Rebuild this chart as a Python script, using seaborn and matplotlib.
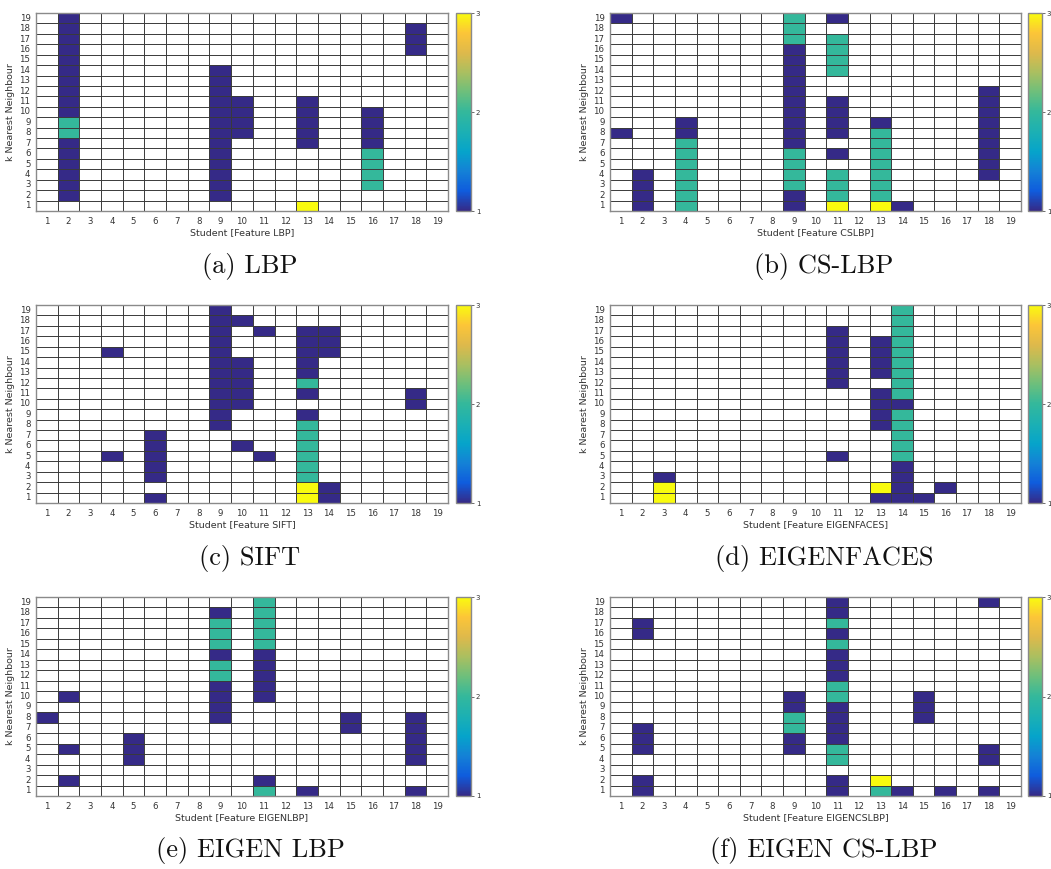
import numpy as np
import pandas as pd
import seaborn as sns
import matplotlib.pyplot as plt
from matplotlib.colors import LinearSegmentedColormap

sns.set_style("white")
plt.rcParams["font.family"] = ["DejaVu Sans"]

N = 19
students = list(range(1, N + 1))
k_values = list(range(1, N + 1))

# Per-student columns: character i is k = i + 1 ('.' = not matched, digits = count)
lbp_cols = {
    2: ".111111221111111111",
    9: ".1111111111111.....",
    10: ".......1111........",
    13: "3.....11111........",
    16: "..22221111.........",
    18: "...............111.",
}
cslbp_cols = {
    1: ".......1..........1",
    2: "1111...............",
    4: "222222211..........",
    9: "1122221111111111222",
    11: "3222.1.1111..2222.1",
    13: "322222221..........",
    14: "1..................",
    18: "...111111111.......",
}
sift_cols = {
    4: "....1.........1....",
    6: "1.11111............",
    9: ".......111111111111",
    10: ".....1...11111...1.",
    11: "....1...........1..",
    13: "332222221.1211111..",
    14: "11............111..",
    18: ".........11........",
}
eigenfaces_cols = {
    3: "331................",
    11: "....1......111111..",
    13: "13.....1111.1111...",
    14: "1111222221222222222",
    15: "1..................",
    16: ".1.................",
}
eigenlbp_cols = {
    1: ".......1...........",
    2: ".1..1....1.........",
    5: "...111.............",
    9: ".......11112212221.",
    11: "21.......1111122222",
    13: "1..................",
    15: "......11...........",
    18: "1..11111...........",
}
eigencslbp_cols = {
    2: "11..111........11..",
    9: "....112211.........",
    11: "11.2211112211121211",
    13: "23.................",
    14: "1..................",
    15: ".......111.........",
    16: "1..................",
    18: "1..11.............1",
}

features = ["LBP", "CSLBP", "SIFT", "EIGENFACES", "EIGENLBP", "EIGENCSLBP"]
captions = ["(a) LBP", "(b) CS-LBP", "(c) SIFT", "(d) EIGENFACES",
            "(e) EIGEN LBP", "(f) EIGEN CS-LBP"]
panels = [lbp_cols, cslbp_cols, sift_cols, eigenfaces_cols, eigenlbp_cols, eigencslbp_cols]


def to_frame(cols):
    grid = np.full((N, N), np.nan)
    for s, col in cols.items():
        for i, ch in enumerate(col):
            if ch != ".":
                grid[i, s - 1] = float(ch)
    df = pd.DataFrame(grid, index=k_values, columns=students)
    return df.iloc[::-1]  # k = 19 on top


parula = LinearSegmentedColormap.from_list("parula_like", [
    (0.00, "#352a87"), (0.10, "#0f5cdd"), (0.20, "#1481d6"),
    (0.30, "#06a4ca"), (0.40, "#1cb0b3"), (0.50, "#33b89c"),
    (0.60, "#6cbf7c"), (0.70, "#aabf60"), (0.80, "#deb94b"),
    (0.90, "#fcc538"), (1.00, "#f9fb0e"),
])

W, H = 1051, 869
fig = plt.figure(figsize=(W / 100, H / 100), dpi=100)


def frac(x0, y0, x1, y1):
    return [x0 / W, 1 - y1 / H, (x1 - x0) / W, (y1 - y0) / H]


col_x = [(36, 448, 456, 471), (610, 1021, 1028, 1042)]
row_y = [(13, 211), (305, 503), (597, 796)]
cap_x = [250, 824]
cap_y = [267, 559, 851]

for idx, (cols, feat, cap) in enumerate(zip(panels, features, captions)):
    r, c = divmod(idx, 2)
    ax0, ax1, cb0, cb1 = col_x[c]
    y0, y1 = row_y[r]
    ax = fig.add_axes(frac(ax0, y0, ax1, y1))
    cax = fig.add_axes(frac(cb0, y0, cb1, y1))
    df = to_frame(cols)
    sns.heatmap(df, ax=ax, cmap=parula, vmin=1, vmax=3, cbar_ax=cax,
                linewidths=0, square=False, xticklabels=True, yticklabels=True)
    for i in range(N + 1):
        ax.axhline(i, color="#3a3a3a", lw=0.7, zorder=3)
        ax.axvline(i, color="#3a3a3a", lw=0.7, zorder=3)
    for sp in ax.spines.values():
        sp.set_visible(True)
        sp.set_color("#8a8a8a")
        sp.set_linewidth(1.0)
        sp.set_zorder(4)
    ax.tick_params(axis="x", labelrotation=0)
    ax.tick_params(axis="y", labelrotation=0)
    ax.tick_params(length=0, pad=4, labelsize=6.2, labelcolor="#333333")
    ax.set_xlabel(f"Student [Feature {feat}]", fontsize=6.8, color="#333333", labelpad=2)
    ax.set_ylabel("k Nearest Neighbour", fontsize=6.8, color="#333333", labelpad=3)

    cb = ax.collections[0].colorbar
    cb.set_ticks([1, 2, 3])
    cb.set_ticklabels(["1", "2", "3"])
    cb.ax.tick_params(labelsize=5, length=2, width=0.5, colors="#333333", pad=1.5)
    cb.outline.set_edgecolor("#8a8a8a")
    cb.outline.set_linewidth(1.0)

    fig.text(cap_x[c] / W, 1 - cap_y[r] / H, cap, ha="center", va="center",
             fontsize=19, family="cmr10", color="#111111")

fig.savefig("out.png", dpi=100)
